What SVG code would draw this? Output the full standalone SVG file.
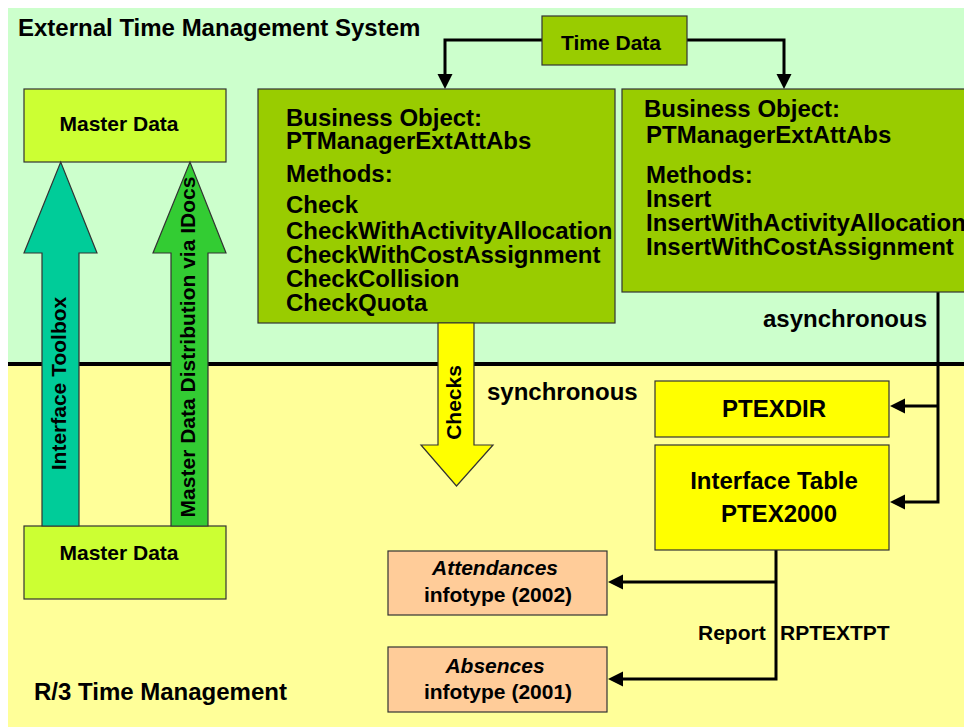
<svg xmlns="http://www.w3.org/2000/svg" width="964" height="727" viewBox="0 0 964 727">
<defs>
<style>
text{font-family:"Liberation Sans",Arial,sans-serif;font-weight:bold;fill:#000}
.t24{font-size:24px}
.t21{font-size:21px}
.box{stroke:#333;stroke-width:1.2}
.con{fill:none;stroke:#000;stroke-width:3}
.ah{fill:#000}
.mid{text-anchor:middle}
</style>
</defs>
<rect x="0" y="0" width="964" height="727" fill="#fff"/>
<rect x="8" y="8" width="956" height="356" fill="#CCFFCC"/>
<rect x="8" y="364" width="956" height="363" fill="#FFFF99"/>
<rect x="8" y="362" width="956" height="4" fill="#000"/>

<text class="t24" x="18" y="36">External Time Management System</text>
<text class="t24" x="34" y="700">R/3 Time Management</text>

<g id="connectors">
<polyline class="con" points="542,40 445,40 445,76"/>
<polygon class="ah" points="437.5,74 452.5,74 445,89"/>
<polyline class="con" points="687,40 784,40 784,76"/>
<polygon class="ah" points="776.5,74 791.5,74 784,89"/>
<polyline class="con" points="938,292 938,502 903,502"/>
<line class="con" x1="938" y1="406" x2="903" y2="406"/>
<polygon class="ah" points="905,398.5 905,413.5 890,406"/>
<polygon class="ah" points="905,494.5 905,509.5 890,502"/>
<polyline class="con" points="776,550 776,679 621,679"/>
<line class="con" x1="776" y1="582" x2="621" y2="582"/>
<polygon class="ah" points="623,574.5 623,589.5 608,582"/>
<polygon class="ah" points="623,671.5 623,686.5 608,679"/>
</g>

<g id="time-data">
<rect class="box" x="542" y="16" width="145" height="49" fill="#99CC00"/>
<text class="t21 mid" x="611" y="50">Time Data</text>
</g>

<g id="bo-check">
<rect class="box" x="258" y="89" width="357" height="234" fill="#99CC00"/>
<text class="t24" x="286" y="126">Business Object:</text>
<text class="t24" x="286" y="149">PTManagerExtAttAbs</text>
<text class="t24" x="286" y="182">Methods:</text>
<text class="t24" x="286" y="213">Check</text>
<text class="t24" x="286" y="239">CheckWithActivityAllocation</text>
<text class="t24" x="286" y="263">CheckWithCostAssignment</text>
<text class="t24" x="286" y="287">CheckCollision</text>
<text class="t24" x="286" y="311">CheckQuota</text>
</g>

<g id="bo-insert">
<rect class="box" x="622" y="89" width="350" height="203" fill="#99CC00"/>
<text class="t24" x="644" y="117">Business Object:</text>
<text class="t24" x="646" y="143">PTManagerExtAttAbs</text>
<text class="t24" x="646" y="183">Methods:</text>
<text class="t24" x="646" y="207">Insert</text>
<text class="t24" x="646" y="231">InsertWithActivityAllocation</text>
<text class="t24" x="646" y="255">InsertWithCostAssignment</text>
</g>

<text class="t24" x="763" y="327">asynchronous</text>

<g id="master-data-top">
<rect class="box" x="24" y="89" width="202" height="73" fill="#CCFF33"/>
<text class="t21 mid" x="119" y="131">Master Data</text>
</g>

<g id="master-data-bottom">
<rect class="box" x="24" y="526" width="202" height="73" fill="#CCFF33"/>
<text class="t21 mid" x="119" y="560">Master Data</text>
</g>

<g id="interface-toolbox">
<polygon class="box" fill="#00CC99" points="42,526 42,253 24,253 60.7,162 97,253 79,253 79,526"/>
<text class="t21 mid" transform="translate(66,383.5) rotate(-90)" x="0" y="0">Interface Toolbox</text>
</g>

<g id="idocs">
<polygon class="box" fill="#33CC33" points="171,526 171,253 153,253 190,162 226,253 208,253 208,526"/>
<text class="t21 mid" transform="translate(195,347) rotate(-90)" x="0" y="0">Master Data Distribution via IDocs</text>
</g>

<g id="checks">
<polygon class="box" fill="#FFFF00" points="438,323 474,323 474,445 493,445 456.5,486 421,445 438,445"/>
<text class="t21 mid" transform="translate(461,402.5) rotate(-90)" x="0" y="0">Checks</text>
</g>

<text class="t24" x="487" y="400">synchronous</text>

<g id="ptexdir">
<rect class="box" x="655" y="381" width="234" height="56" fill="#FFFF00"/>
<text class="t24 mid" x="774" y="417">PTEXDIR</text>
</g>

<g id="ptex2000">
<rect class="box" x="655" y="445" width="234" height="105" fill="#FFFF00"/>
<text class="t24 mid" x="774" y="489">Interface Table</text>
<text class="t24 mid" x="779" y="522">PTEX2000</text>
</g>

<g id="attendances">
<rect class="box" x="388" y="551" width="219" height="64" fill="#FFCC99"/>
<text class="t21 mid" x="495" y="575" font-style="italic">Attendances</text>
<text class="t21 mid" x="498" y="602">infotype (2002)</text>
</g>

<g id="absences">
<rect class="box" x="388" y="647" width="219" height="65" fill="#FFCC99"/>
<text class="t21 mid" x="495" y="673" font-style="italic">Absences</text>
<text class="t21 mid" x="498" y="699">infotype (2001)</text>
</g>

<text class="t21" x="698" y="640">Report</text>
<text class="t21" x="780" y="640">RPTEXTPT</text>
</svg>
